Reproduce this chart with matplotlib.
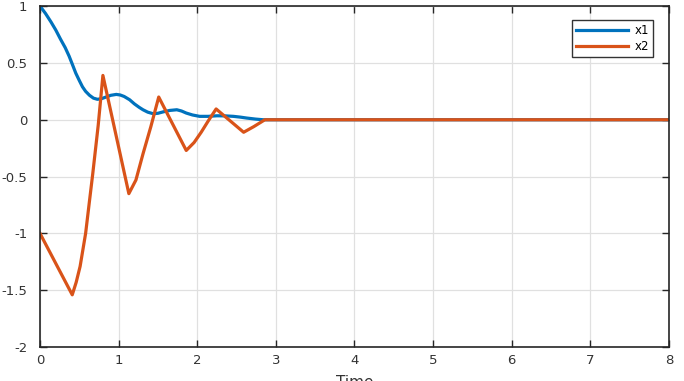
import matplotlib.pyplot as plt

# values
t_x1 = [0.0, 0.07, 0.14, 0.2, 0.26, 0.32, 0.37, 0.41, 0.455, 0.5, 0.54, 0.58, 0.63, 0.68, 0.73,
        0.78, 0.84, 0.9, 0.97, 1.02, 1.07, 1.14, 1.2, 1.26, 1.31, 1.37, 1.44, 1.5, 1.57, 1.65,
        1.74, 1.8, 1.86, 1.94, 2.03, 2.14, 2.25, 2.36, 2.46, 2.55, 2.63, 2.74, 2.84, 8.0]
x1 = [1.0, 0.935, 0.86, 0.79, 0.71, 0.635, 0.56, 0.49, 0.41, 0.345, 0.29, 0.25, 0.215, 0.19, 0.18,
      0.185, 0.20, 0.215, 0.223, 0.218, 0.205, 0.176, 0.14, 0.11, 0.088, 0.067, 0.053, 0.057, 0.07, 0.082,
      0.088, 0.077, 0.059, 0.042, 0.03, 0.03, 0.035, 0.034, 0.03, 0.023, 0.015, 0.006, 0.0, 0.0]

t_x2 = [0.0, 0.41, 0.46, 0.51, 0.58, 0.63, 0.67, 0.74, 0.80, 1.13, 1.22, 1.31, 1.41, 1.51, 1.86,
        1.96, 2.05, 2.14, 2.24, 2.59, 2.72, 2.86, 8.0]
x2 = [-1.0, -1.54, -1.43, -1.29, -1.0, -0.71, -0.48, -0.05, 0.39, -0.65, -0.53, -0.3, -0.06, 0.2, -0.27,
      -0.2, -0.11, -0.01, 0.095, -0.11, -0.06, 0.0, 0.0]

xticks = [0, 1, 2, 3, 4, 5, 6, 7, 8]
yticks = [-2, -1.5, -1, -0.5, 0, 0.5, 1]
ytick_labels = ['-2', '-1.5', '-1', '-0.5', '0', '0.5', '1']

plt.rcParams['font.family'] = ['DejaVu Sans']

fig = plt.figure(figsize=(6.84, 3.81), dpi=100)
ax = fig.add_axes([0.0585, 0.089, 0.9195, 0.895])

ax.plot(t_x1, x1, color='#0072BD', linewidth=2.3, label='x1', solid_joinstyle='round')
ax.plot(t_x2, x2, color='#D95319', linewidth=2.3, label='x2', solid_joinstyle='round')

ax.set_xlim(0, 8)
ax.set_ylim(-2, 1)
ax.set_xticks(xticks)
ax.set_yticks(yticks)
ax.set_yticklabels(ytick_labels)
ax.grid(True, color='#e0e0e0', linewidth=0.9)
ax.set_axisbelow(True)

ax.tick_params(direction='in', length=5, width=1, colors='#262626', labelsize=9.5,
               top=True, right=True, labelcolor='#333333')
ax.tick_params(axis='x', pad=5)
ax.tick_params(axis='y', pad=9)
for s in ax.spines.values():
    s.set_color('#262626')
    s.set_linewidth(1.2)

ax.set_xlabel('Time', fontsize=11, color='#333333', labelpad=6)

leg = ax.legend(loc='upper right', bbox_to_anchor=(0.9746, 0.959), borderaxespad=0,
                fontsize=8.5, fancybox=False, edgecolor='#333333', framealpha=1,
                handlelength=4.4, handletextpad=0.5, borderpad=0.35, labelspacing=0.22)
leg.get_frame().set_linewidth(1.0)

fig.savefig('out.png', dpi=100)
